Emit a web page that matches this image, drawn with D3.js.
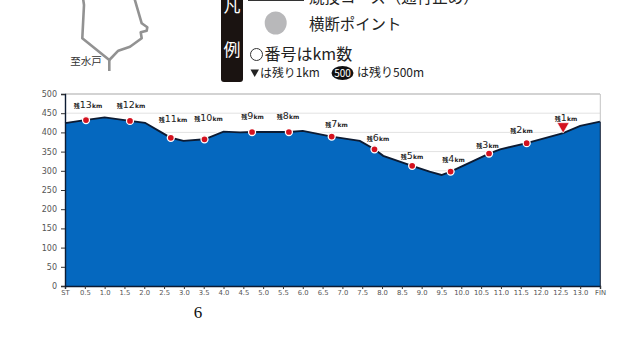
<!DOCTYPE html>
<html><head><meta charset="utf-8">
<script src="https://cdn.jsdelivr.net/npm/d3@7"></script>
<style>html,body{margin:0;padding:0;background:#fff}svg{display:block}
text{font-family:"Noto Sans CJK JP","Noto Sans",sans-serif}</style></head>
<body><svg id="c" width="640" height="360"></svg>
<script>
// course profile: distance from start (km) and elevation (m)
const profileKm = [0,0.5,1.0,1.64,2.02,2.4,2.67,2.99,3.52,4.0,4.42,4.72,5.65,6.0,6.73,7.44,7.81,8.03,8.76,9.2,9.5,9.73,10.7,10.98,11.65,12.57,13.0,13.5];
const profileElev = [424,432,439,430,425,402,386,378,382,402,400,401,401,404,389,378,356,339,313,298,289,298,345,356,372,398,417,428];
// remaining-distance markers
const markerNames = ["13","12","11","10","9","8","7","6","5","4","3","2"];
const markerKm = [0.53,1.64,2.67,3.52,4.72,5.65,6.73,7.81,8.76,9.73,10.7,11.65];
const markerElev = [432,430,386,382,401,401,389,356,313,298,345,372];
const lastName = "1";
const lastKm = 12.57;
const lastElev = 398;
// axes
const yTicks = [0,50,100,150,200,250,300,350,400,450,500];
const xTickKm = d3.range(28).map(i=>i/2);
const xTickLabels = ["ST","0.5","1.0","1.5","2.0","2.5","3.0","3.5","4.0","4.5","5.0","5.5","6.0","6.5","7.0","7.5","8.0","8.5","9.0","9.5","10.0","10.5","11.0","11.5","12.0","12.5","13.0","FIN"];
// legend and page text
const legendCourse = "競技コース（通行止め）";
const legendCross = "横断ポイント";
const legendNumber = "番号はkm数";
const legendOneKm = "は残り1km";
const legendBadge = "500";
const legendHalfKm = "は残り500m";
const mapLabel = "至水戸";
const pageNumber = "6";
// layout only: label centre and vertical position in pixels, order 13..1
const labelX = [88,131,173,208.5,252.5,288,336.5,378,412,453.5,487.5,521.5,566];
const labelY = [105,105,119,118,116,116,124,138,156,158.5,145,129.5,118];
const mapLeft = [[83,-2],[84,5],[82.3,38.3],[109.3,60],[109.3,71]];
const mapRight = [[134.3,-2],[141.7,23.3],[147.3,27.3],[146.7,30.7],[140.7,32.3],[141.7,38.3],[130,46.7],[118.3,50.7],[109.3,60]];

const svg = d3.select("#c");
const x = d3.scaleLinear().domain([0,13.5]).range([65,600]);
const y = d3.scaleLinear().domain([0,500]).range([286,94]);
const tickFont = '"DejaVu Sans",sans-serif';

// map
const mapLine = d3.line();
[mapLeft,mapRight].forEach(p=>svg.append("path").attr("d",mapLine(p)).attr("fill","none")
  .attr("stroke","#929292").attr("stroke-width",2.6).attr("stroke-linejoin","round"));
svg.append("text").attr("x",86).attr("y",65).attr("text-anchor","middle")
  .attr("font-size",10.5).attr("fill","#333").text(mapLabel);

// legend
svg.append("rect").attr("x",221).attr("y",-10).attr("width",22).attr("height",92).attr("rx",3).attr("fill","#1a1311");
[["凡",12],["例",56]].forEach(([t,b])=>svg.append("text").attr("x",232).attr("y",b)
  .attr("text-anchor","middle").attr("font-size",17).attr("fill","#fff").text(t));
svg.append("rect").attr("x",248).attr("y",-1).attr("width",56).attr("height",2).attr("fill","#333");
svg.append("text").attr("x",309).attr("y",3).attr("font-size",15.5).attr("fill","#222").text(legendCourse);
svg.append("ellipse").attr("cx",275.7).attr("cy",23).attr("rx",11).attr("ry",11.5).attr("fill","#b8b8ba");
svg.append("text").attr("x",309).attr("y",30).attr("font-size",15.4).attr("fill","#222").text(legendCross);
svg.append("circle").attr("cx",256.5).attr("cy",54.5).attr("r",6).attr("fill","#fff").attr("stroke","#333").attr("stroke-width",1);
svg.append("text").attr("x",264.5).attr("y",60).attr("font-size",16).attr("fill","#222").text(legendNumber);
svg.append("path").attr("d","M250.5,69.5H259L254.7,77Z").attr("fill","#222");
svg.append("text").attr("x",260).attr("y",77).attr("font-size",11.9).attr("fill","#222").text(legendOneKm);
svg.append("ellipse").attr("cx",342.5).attr("cy",73).attr("rx",11).attr("ry",7).attr("fill","#111");
svg.append("text").attr("x",342.5).attr("y",76.5).attr("text-anchor","middle").attr("font-size",10).attr("fill","#fff").text(legendBadge);
svg.append("text").attr("x",357).attr("y",77).attr("font-size",12).attr("fill","#222").text(legendHalfKm);

// gridlines and frame
svg.append("g").selectAll("line").data(yTicks.filter(d=>d>0)).join("line")
  .attr("x1",x(0)).attr("x2",x(13.5)).attr("y1",d=>y(d)).attr("y2",d=>y(d))
  .attr("stroke",d=>d===500?"#c4c4c4":"#e2e2e2").attr("stroke-width",d=>d===500?1.4:1);

// area and outline
const pairs = profileKm.map((k,i)=>[k,profileElev[i]]);
svg.append("path").datum(pairs)
  .attr("d",d3.area().x(d=>x(d[0])).y0(y(0)).y1(d=>y(d[1])))
  .attr("fill","#0568bf");
svg.append("path").datum(pairs).attr("fill","none").attr("stroke","#fff").attr("stroke-opacity",.8).attr("stroke-width",1)
  .attr("transform","translate(0,-1.6)")
  .attr("d",d3.line().x(d=>x(d[0])).y(d=>y(d[1])));
svg.append("path").datum(pairs).attr("fill","none").attr("stroke","#0c1b33").attr("stroke-width",1.9)
  .attr("d",d3.line().x(d=>x(d[0])).y(d=>y(d[1])));

// right edge
svg.append("line").attr("x1",600.3).attr("x2",600.3).attr("y1",y(500)).attr("y2",y(428)).attr("stroke","#c4c4c4");
svg.append("line").attr("x1",600.3).attr("x2",600.3).attr("y1",y(428)).attr("y2",y(0)).attr("stroke","#0c1b33");

// axes
const ax = svg.append("g").attr("transform",`translate(0,${y(0)})`)
  .call(d3.axisBottom(x).tickValues(xTickKm).tickSize(3).tickPadding(1.5).tickFormat((d,i)=>xTickLabels[i]));
const ay = svg.append("g").attr("transform",`translate(${x(0)},0)`)
  .call(d3.axisLeft(y).tickValues(yTicks).tickSize(4).tickPadding(4));
[ax,ay].forEach(g=>{
  g.selectAll("path.domain").attr("stroke","#0c1b33").attr("stroke-width",1.4);
  g.selectAll(".tick line").attr("stroke","#333");
  g.selectAll("text").attr("fill","#555").style("font-family",tickFont);
});
ax.selectAll("text").attr("font-size",6.8);
ay.selectAll("text").attr("font-size",8);

// markers
svg.append("g").selectAll("circle").data(markerKm).join("circle")
  .attr("cx",d=>x(d)).attr("cy",(d,i)=>y(markerElev[i])).attr("r",3.5)
  .attr("fill","#d4121f").attr("stroke","#fff").attr("stroke-width",1.3);
svg.append("path").attr("d",d3.symbol(d3.symbolTriangle,62))
  .attr("transform",`translate(${x(lastKm)},${y(lastElev)-7}) rotate(180)`)
  .attr("fill","#d4121f").attr("stroke","#fff").attr("stroke-width",.6);

// marker labels
const names = markerNames.concat([lastName]);
names.forEach((n,i)=>{
  const t = svg.append("text").attr("x",labelX[i]).attr("y",labelY[i]+3).attr("text-anchor","middle")
    .attr("fill","#222").attr("font-size",6);
  t.append("tspan").attr("font-weight",700).text("残");
  t.append("tspan").attr("font-size",9.5).style("font-family",tickFont).text(n);
  t.append("tspan").attr("font-size",6).style("font-family",tickFont).attr("font-weight",700).text("km");
});

// page number
svg.append("text").attr("x",198).attr("y",318).attr("text-anchor","middle")
  .attr("font-size",17).attr("fill","#111").style("font-family",'"Liberation Serif",serif').text(pageNumber);
</script></body></html>
